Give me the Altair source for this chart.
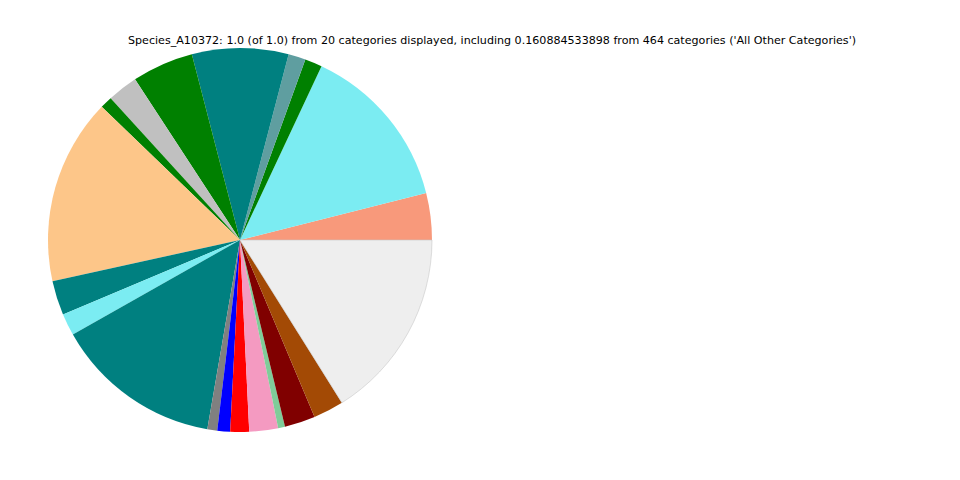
import altair as alt
import pandas as pd
import math

# Slices listed counterclockwise from 3 o'clock (matplotlib order)
categories = [f"Cat_{i:02d}" for i in range(1, 20)] + ["All Other Categories"]
values = [0.0394, 0.1408, 0.0145, 0.0145, 0.0811, 0.0517, 0.0256, 0.0103,
          0.1564, 0.0289, 0.0186, 0.1408, 0.0083, 0.0108, 0.0158, 0.0242,
          0.0058, 0.0258, 0.0256, 0.160884533898]
colors = ["#F8997B", "#7BECF2", "#008000", "#5F9EA0", "#008080", "#008000",
          "#C0C0C0", "#008000", "#FDC689", "#008080", "#7BECF2", "#008080",
          "#808080", "#0000FF", "#FF0000", "#F49AC1", "#80CC99", "#800000",
          "#A34A05", "#EEEEEE"]
title_text = ("Species_A10372: 1.0 (of 1.0) from 20 categories displayed, "
              "including 0.160884533898 from 464 categories ('All Other Categories')")

df = pd.DataFrame({
    "cat": categories,
    "value": values,
    "color": colors,
    "order": list(range(len(categories), 0, -1)),
    "is_other": [c == "All Other Categories" for c in categories],
})

pie = alt.Chart(df).mark_arc(radius=192, strokeWidth=0.6).encode(
    theta=alt.Theta("value:Q", stack=True,
                    scale=alt.Scale(range=[math.pi / 2, math.pi / 2 + 2 * math.pi])),
    order=alt.Order("order:Q", sort="ascending"),
    color=alt.Color("color:N", scale=None, legend=None),
    stroke=alt.condition("datum.is_other", alt.value("#c8c8c8"), alt.value(None)),
    x=alt.value(232),
    y=alt.value(232),
)

title = alt.Chart(pd.DataFrame({"t": [title_text]})).mark_text(
    font="DejaVu Sans", fontSize=11.1, color="black", align="center", baseline="middle"
).encode(
    text="t:N",
    x=alt.value(484),
    y=alt.value(32.5),
)

chart = alt.layer(pie, title).properties(
    width=944, height=464, padding=0, autosize="none"
).configure_view(stroke=None)

chart.save("out.html", embed_options={"renderer": "svg", "actions": False})
